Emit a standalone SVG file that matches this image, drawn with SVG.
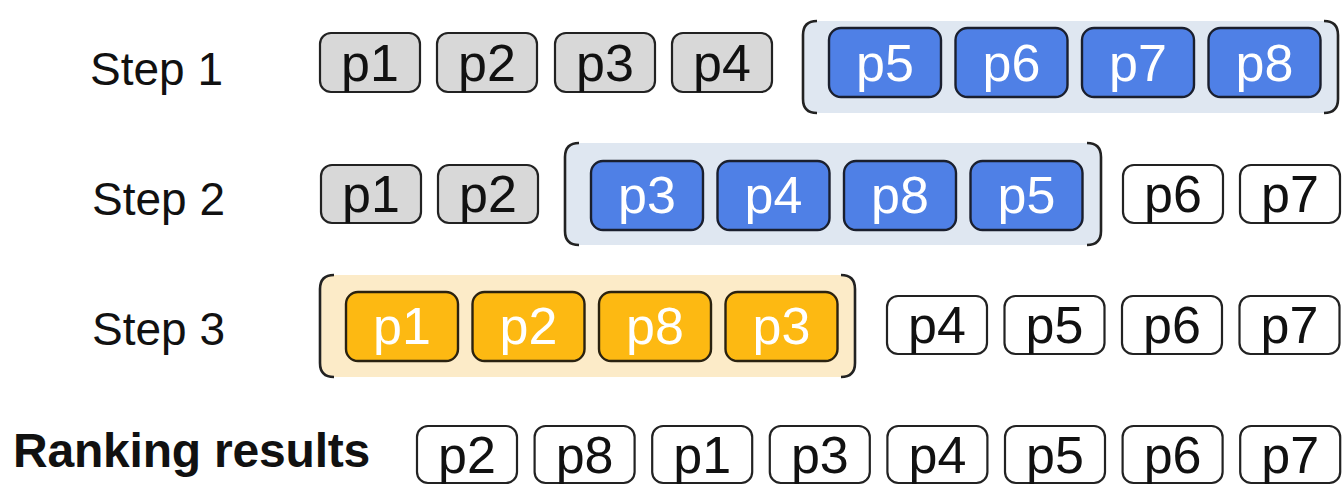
<svg xmlns="http://www.w3.org/2000/svg" width="1342" height="485" viewBox="0 0 1342 485">
<style>
.lbl{font-family:"Liberation Sans",Arial,sans-serif;font-size:46px;fill:#111}
.rank{font-family:"Liberation Sans",Arial,sans-serif;font-size:48px;font-weight:bold;fill:#111;letter-spacing:-0.2px}
.t{font-family:"Liberation Sans",Arial,sans-serif;font-size:52px;text-anchor:middle}
.tk{fill:#111}
.tw{fill:#ffffff}
.grey{fill:#d8d8d8;stroke:#222;stroke-width:2.2}
.white{fill:#ffffff;stroke:#222;stroke-width:2.2}
.blue{fill:#4f80e6;stroke:#1a1f2e;stroke-width:2.4}
.yel{fill:#fdb912;stroke:#2a2210;stroke-width:2.4}
.cb{fill:#dfe7f1}
.cy{fill:#fcebc8}
.br{fill:none;stroke:#222;stroke-width:2.6}
</style>
<rect width="1342" height="485" fill="#ffffff"/>

<g id="labels">
<text class="lbl" x="90" y="85">Step 1</text>
<text class="lbl" x="92" y="215">Step 2</text>
<text class="lbl" x="92" y="345">Step 3</text>
<text class="rank" x="13" y="467">Ranking results</text>
</g>

<g id="containers">
<g id="c1">
<rect class="cb" x="803" y="21" width="535" height="92" rx="14"/>
<path class="br" d="M817,21 Q803,21 803,35 L803,99 Q803,113 817,113"/>
<path class="br" d="M1324,21 Q1338,21 1338,35 L1338,99 Q1338,113 1324,113"/>
</g>
<g id="c2">
<rect class="cb" x="565" y="143" width="536" height="102" rx="14"/>
<path class="br" d="M579,143 Q565,143 565,157 L565,231 Q565,245 579,245"/>
<path class="br" d="M1087,143 Q1101,143 1101,157 L1101,231 Q1101,245 1087,245"/>
</g>
<g id="c3">
<rect class="cy" x="320" y="275" width="535" height="102" rx="14"/>
<path class="br" d="M334,275 Q320,275 320,289 L320,363 Q320,377 334,377"/>
<path class="br" d="M841,275 Q855,275 855,289 L855,363 Q855,377 841,377"/>
</g>
</g>

<g id="step1">
<g id="s1p1"><rect class="grey" x="320" y="33" width="100" height="59" rx="11"/><text class="t tk" x="370" y="81">p1</text></g>
<g id="s1p2"><rect class="grey" x="437" y="33" width="100" height="59" rx="11"/><text class="t tk" x="487" y="81">p2</text></g>
<g id="s1p3"><rect class="grey" x="555" y="33" width="100" height="59" rx="11"/><text class="t tk" x="605" y="81">p3</text></g>
<g id="s1p4"><rect class="grey" x="672" y="33" width="100" height="59" rx="11"/><text class="t tk" x="722" y="81">p4</text></g>
<g id="s1p5"><rect class="blue" x="829" y="28" width="112" height="69" rx="12"/><text class="t tw" x="885" y="81">p5</text></g>
<g id="s1p6"><rect class="blue" x="955.5" y="28" width="112" height="69" rx="12"/><text class="t tw" x="1011.5" y="81">p6</text></g>
<g id="s1p7"><rect class="blue" x="1082" y="28" width="112" height="69" rx="12"/><text class="t tw" x="1138" y="81">p7</text></g>
<g id="s1p8"><rect class="blue" x="1208.5" y="28" width="112" height="69" rx="12"/><text class="t tw" x="1264.5" y="81">p8</text></g>
</g>

<g id="step2">
<g id="s2p1"><rect class="grey" x="321" y="165" width="100" height="58" rx="11"/><text class="t tk" x="371" y="212">p1</text></g>
<g id="s2p2"><rect class="grey" x="438" y="165" width="100" height="58" rx="11"/><text class="t tk" x="488" y="212">p2</text></g>
<g id="s2p3"><rect class="blue" x="591" y="161" width="112" height="69" rx="12"/><text class="t tw" x="647" y="213">p3</text></g>
<g id="s2p4"><rect class="blue" x="717.5" y="161" width="112" height="69" rx="12"/><text class="t tw" x="773.5" y="213">p4</text></g>
<g id="s2p8"><rect class="blue" x="844" y="161" width="112" height="69" rx="12"/><text class="t tw" x="900" y="213">p8</text></g>
<g id="s2p5"><rect class="blue" x="970.5" y="161" width="112" height="69" rx="12"/><text class="t tw" x="1026.5" y="213">p5</text></g>
<g id="s2p6"><rect class="white" x="1123" y="165" width="100" height="58" rx="11"/><text class="t tk" x="1173" y="212">p6</text></g>
<g id="s2p7"><rect class="white" x="1240" y="165" width="100" height="58" rx="11"/><text class="t tk" x="1290" y="212">p7</text></g>
</g>

<g id="step3">
<g id="s3p1"><rect class="yel" x="346" y="292" width="112" height="69" rx="12"/><text class="t tw" x="402" y="344">p1</text></g>
<g id="s3p2"><rect class="yel" x="472.5" y="292" width="112" height="69" rx="12"/><text class="t tw" x="528.5" y="344">p2</text></g>
<g id="s3p8"><rect class="yel" x="599" y="292" width="112" height="69" rx="12"/><text class="t tw" x="655" y="344">p8</text></g>
<g id="s3p3"><rect class="yel" x="725.5" y="292" width="112" height="69" rx="12"/><text class="t tw" x="781.5" y="344">p3</text></g>
<g id="s3p4"><rect class="white" x="887" y="296" width="100" height="58" rx="11"/><text class="t tk" x="937" y="343">p4</text></g>
<g id="s3p5"><rect class="white" x="1004.5" y="296" width="100" height="58" rx="11"/><text class="t tk" x="1054.5" y="343">p5</text></g>
<g id="s3p6"><rect class="white" x="1122" y="296" width="100" height="58" rx="11"/><text class="t tk" x="1172" y="343">p6</text></g>
<g id="s3p7"><rect class="white" x="1239.5" y="296" width="100" height="58" rx="11"/><text class="t tk" x="1289.5" y="343">p7</text></g>
</g>

<g id="ranking">
<g id="rp2"><rect class="white" x="417" y="426" width="100" height="57" rx="11"/><text class="t tk" x="467" y="473">p2</text></g>
<g id="rp8"><rect class="white" x="534.6" y="426" width="100" height="57" rx="11"/><text class="t tk" x="584.6" y="473">p8</text></g>
<g id="rp1"><rect class="white" x="652.2" y="426" width="100" height="57" rx="11"/><text class="t tk" x="702.2" y="473">p1</text></g>
<g id="rp3"><rect class="white" x="769.8" y="426" width="100" height="57" rx="11"/><text class="t tk" x="819.8" y="473">p3</text></g>
<g id="rp4"><rect class="white" x="887.4" y="426" width="100" height="57" rx="11"/><text class="t tk" x="937.4" y="473">p4</text></g>
<g id="rp5"><rect class="white" x="1005" y="426" width="100" height="57" rx="11"/><text class="t tk" x="1055" y="473">p5</text></g>
<g id="rp6"><rect class="white" x="1122.6" y="426" width="100" height="57" rx="11"/><text class="t tk" x="1172.6" y="473">p6</text></g>
<g id="rp7"><rect class="white" x="1240.2" y="426" width="100" height="57" rx="11"/><text class="t tk" x="1290.2" y="473">p7</text></g>
</g>

<g id="connectors"></g>
</svg>
